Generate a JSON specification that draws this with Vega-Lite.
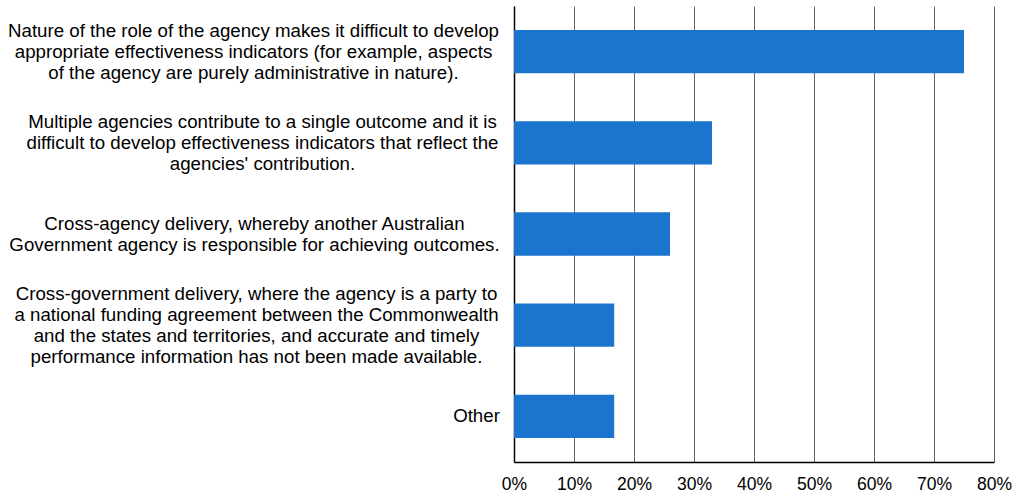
{
  "$schema": "https://vega.github.io/schema/vega-lite/v6.json",
  "autosize": {"type": "none"},
  "padding": {"left": 514, "top": 6, "right": 24, "bottom": 34},
  "width": 480,
  "height": 456,
  "background": "white",
  "data": {"values": [
    {"cat": "Nature of the role of the agency makes it difficult to develop|appropriate effectiveness indicators (for example, aspects|of the agency are purely administrative in nature).", "pct": 0.75},
    {"cat": "Multiple agencies contribute to a single outcome and it is|difficult to develop effectiveness indicators that reflect the|agencies' contribution.", "pct": 0.33},
    {"cat": "Cross-agency delivery, whereby another Australian|Government agency is responsible for achieving outcomes.", "pct": 0.26},
    {"cat": "Cross-government delivery, where the agency is a party to|a national funding agreement between the Commonwealth|and the states and territories, and accurate and timely|performance information has not been made available.", "pct": 0.167},
    {"cat": "Other", "pct": 0.167}
  ]},
  "mark": {"type": "bar", "color": "#1b75cf"},
  "encoding": {
    "y": {
      "field": "cat", "type": "nominal", "sort": null, "title": null,
      "scale": {"paddingInner": 0.525, "paddingOuter": 0.2625},
      "axis": {
        "labelExpr": "split(datum.label, '|')",
        "labelFont": "Liberation Sans", "labelFontSize": 18.7, "labelColor": "#000000",
        "labelLineHeight": 21, "labelLimit": 0,
        "labelAlign": "center",
        "labelPadding": {"condition": [
          {"test": "indexof(datum.value,'Nature')==0", "value": 261},
          {"test": "indexof(datum.value,'Multiple')==0", "value": 252},
          {"test": "indexof(datum.value,'Cross-agency')==0", "value": 260},
          {"test": "indexof(datum.value,'Cross-government')==0", "value": 258}
        ], "value": 38},
        "labelOffset": {"condition": [
          {"test": "indexof(datum.value,'Nature')==0", "value": -21},
          {"test": "indexof(datum.value,'Multiple')==0", "value": -21},
          {"test": "indexof(datum.value,'Cross-agency')==0", "value": -10.5},
          {"test": "indexof(datum.value,'Cross-government')==0", "value": -31.5}
        ], "value": 0},
        "ticks": false, "domainColor": "#000000", "domainWidth": 1.5, "grid": false
      }
    },
    "x": {
      "field": "pct", "type": "quantitative", "title": null,
      "scale": {"domain": [0, 0.8], "nice": false},
      "axis": {
        "format": ".0%", "values": [0, 0.1, 0.2, 0.3, 0.4, 0.5, 0.6, 0.7, 0.8],
        "labelFont": "Liberation Sans", "labelFontSize": 17.5, "labelColor": "#000000",
        "labelPadding": 13, "ticks": false, "domainColor": "#000000", "domainWidth": 1.5,
        "grid": true, "gridColor": "#666666", "gridWidth": 1, "labelFlush": false
      }
    }
  },
  "config": {"view": {"stroke": null}}
}
